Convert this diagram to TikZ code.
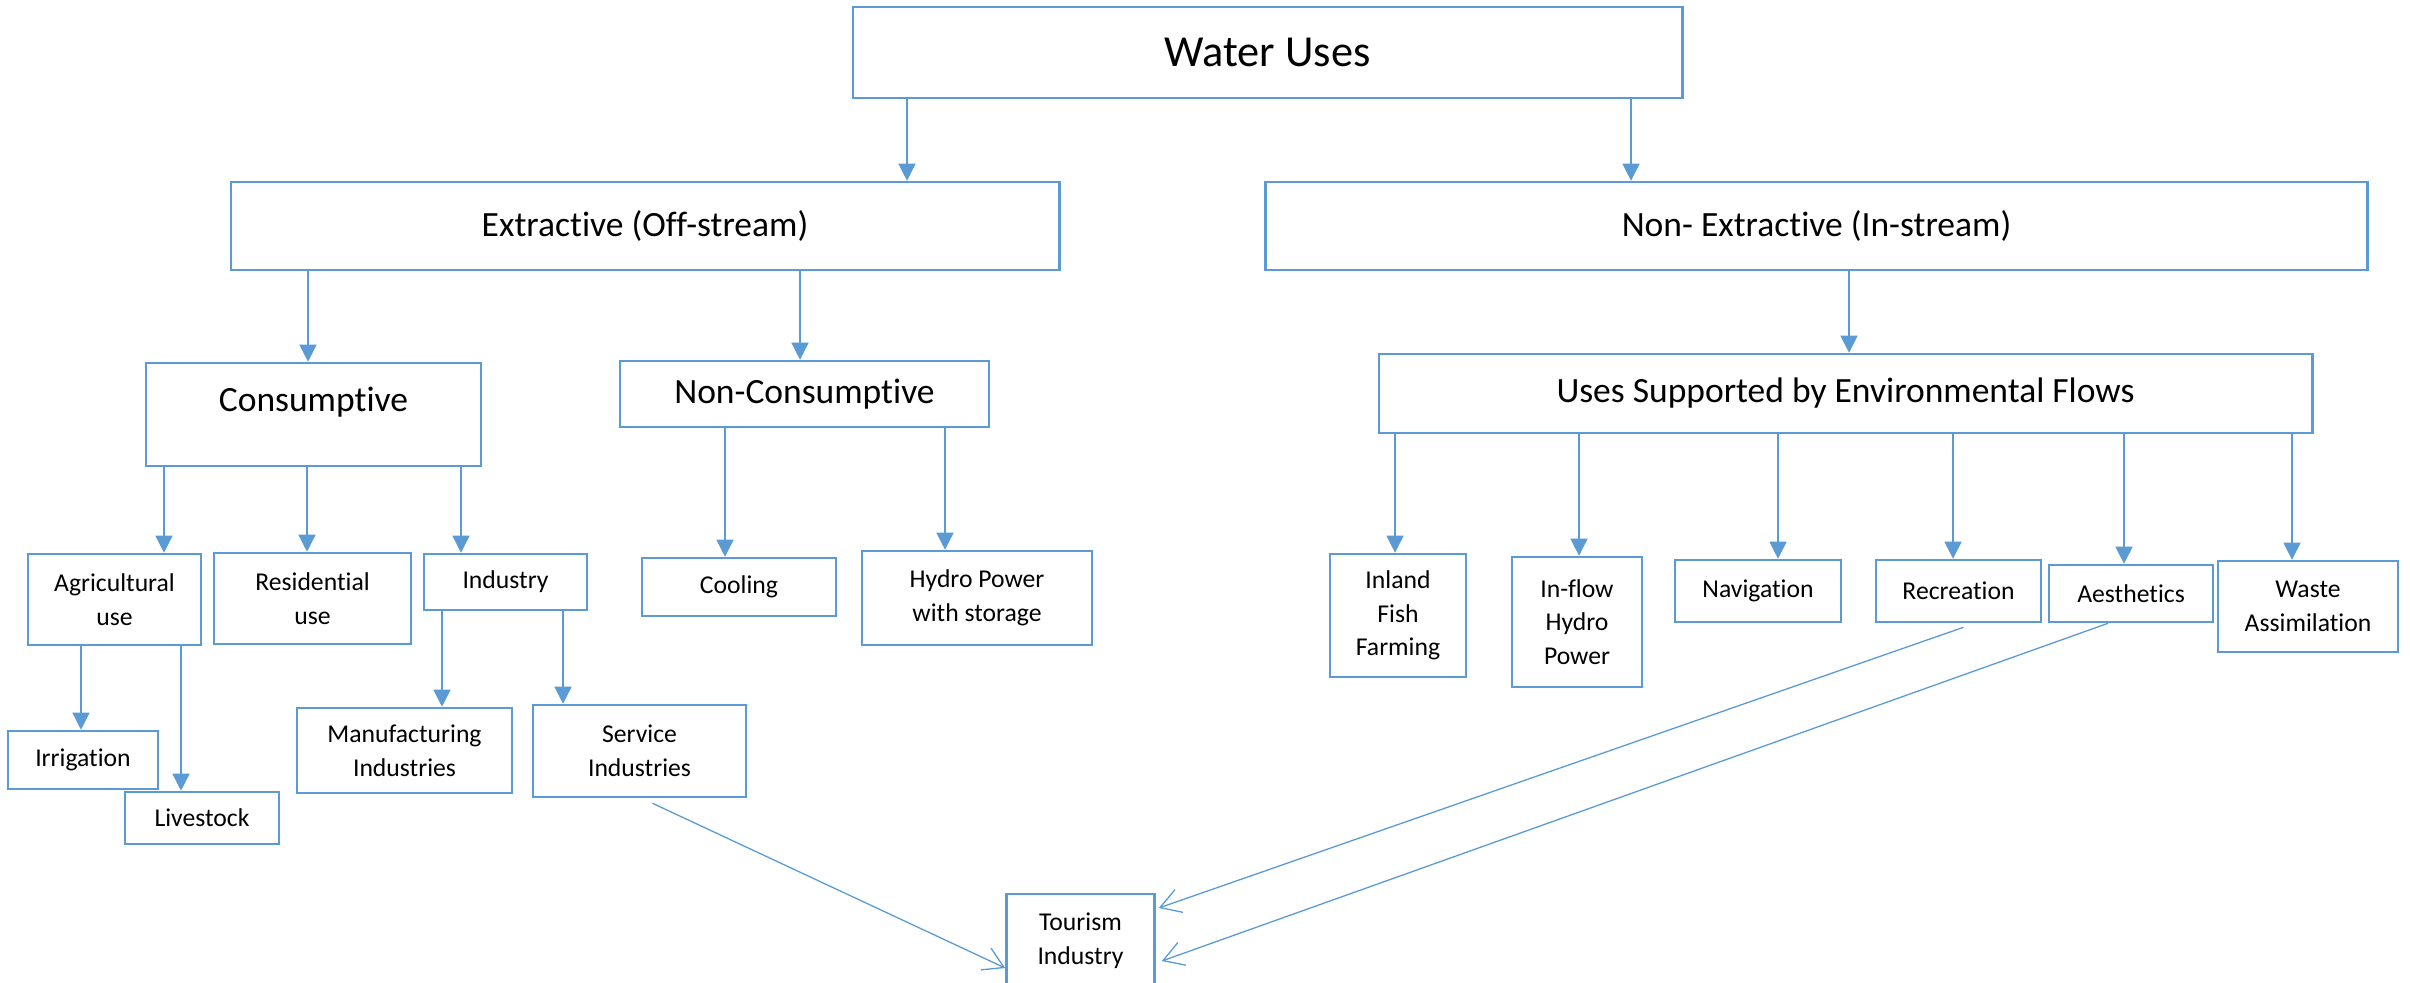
\documentclass[tikz,border=0pt]{standalone}
\usepackage{fontspec}
\setmainfont{Carlito}[Ligatures=NoCommon]
\usepackage{xcolor}
\usepackage{tikz}
\usetikzlibrary{arrows.meta}

\definecolor{vandblaa}{HTML}{5B9BD5}

\begin{document}
\begin{tikzpicture}[
    x=0.01cm, y=-0.01cm,
    boks/.style={rectangle, draw=vandblaa, line width=0.025cm, inner sep=0pt,
    align=center, text=black},
    stor/.style={boks, font=\fontsize{12.6}{15}\selectfont},
    mellem/.style={boks, font=\fontsize{10.1}{12}\selectfont},
    lille/.style={boks, font=\fontsize{7.3}{9.6}\selectfont},
    pil/.style={draw=vandblaa, line width=0.013cm,
    -{Triangle[length=0.17cm, width=0.17cm]}},
    skraa/.style={draw=vandblaa, line width=0.013cm,
    -{Straight Barb[length=0.2cm, width=0.24cm]}}
]
\useasboundingbox (0,0) rectangle (2410,982);

% top and second level
\node[stor, minimum width=8.29cm, minimum height=0.91cm] (uses) at (1267.5,52.5) {Water Uses};
\node[mellem, minimum width=8.28cm, minimum height=0.88cm] (extr) at (645,226) {Extractive (Off-stream)};
\node[mellem, minimum width=11.01cm, minimum height=0.88cm] (nonextr) at (1816.5,226) {Non- Extractive (In-stream)};

% third level
\node[mellem, minimum width=3.35cm, minimum height=1.03cm, text depth=0.3cm] (cons) at (313.5,414.5) {Consumptive};
\node[mellem, minimum width=3.69cm, minimum height=0.66cm] (noncons) at (804.5,394) {Non-Consumptive};
\node[mellem, minimum width=9.33cm, minimum height=0.79cm] (usef) at (1845.5,393.5) {Uses Supported by Environmental Flows};

% off-stream uses
\node[lille, minimum width=1.73cm, minimum height=0.91cm] (agri) at (114.5,599.5) {Agricultural\\use};
\node[lille, minimum width=1.97cm, minimum height=0.91cm] (resid) at (312.5,598.5) {Residential\\use};
\node[lille, minimum width=1.63cm, minimum height=0.56cm] (ind) at (505.5,582) {Industry};
\node[lille, minimum width=1.94cm, minimum height=0.58cm] (cool) at (739,587) {Cooling};
\node[lille, minimum width=2.30cm, minimum height=0.94cm] (hydro) at (977,598) {Hydro Power\\with storage};
\node[lille, minimum width=1.50cm, minimum height=0.58cm] (irr) at (83,760) {Irrigation};
\node[lille, minimum width=1.54cm, minimum height=0.52cm] (live) at (202,818) {Livestock};
\node[lille, minimum width=2.15cm, minimum height=0.85cm] (manuf) at (404.5,750.5) {Manufacturing\\Industries};
\node[lille, minimum width=2.13cm, minimum height=0.92cm] (serv) at (639.5,751) {Service\\Industries};
\node[lille, minimum width=1.48cm, minimum height=0.94cm] (tour) at (1080.5,941) {Tourism\\Industry};

% in-stream uses
\node[lille, minimum width=1.36cm, minimum height=1.23cm] (fish) at (1398,615.5) {Inland\\Fish\\Farming};
\node[lille, minimum width=1.30cm, minimum height=1.30cm] (inflow) at (1577,622) {In-flow\\Hydro\\Power};
\node[lille, minimum width=1.66cm, minimum height=0.62cm] (nav) at (1758,591) {Navigation};
\node[lille, minimum width=1.65cm, minimum height=0.62cm] (recr) at (1958.5,591) {Recreation};
\node[lille, minimum width=1.64cm, minimum height=0.57cm] (aest) at (2131,593.5) {Aesthetics};
\node[lille, minimum width=1.80cm, minimum height=0.91cm] (waste) at (2308,606.5) {Waste\\Assimilation};

% tree arrows
\foreach \fra/\til/\x in {uses/extr/907, uses/nonextr/1631, extr/cons/308, extr/noncons/800,
    nonextr/usef/1849, cons/agri/164, cons/resid/307, cons/ind/461, noncons/cool/725,
    noncons/hydro/945, agri/irr/81, agri/live/181, ind/manuf/442, ind/serv/563,
    usef/fish/1395, usef/inflow/1579, usef/nav/1778, usef/recr/1953, usef/aest/2124,
    usef/waste/2292}
    \draw[pil] (\fra.south -| \x,0) -- (\til.north -| \x,0);

% links to tourism
\draw[skraa] ([xshift=0.13cm, yshift=-0.05cm]serv.south) -- ([yshift=-0.27cm]tour.west);
\draw[skraa] ([xshift=0.05cm, yshift=-0.04cm]recr.south) -- ([xshift=0.03cm, yshift=0.33cm]tour.east);
\draw[skraa] ([xshift=-0.23cm]aest.south) -- ([xshift=0.06cm, yshift=-0.2cm]tour.east);
\end{tikzpicture}
\end{document}
